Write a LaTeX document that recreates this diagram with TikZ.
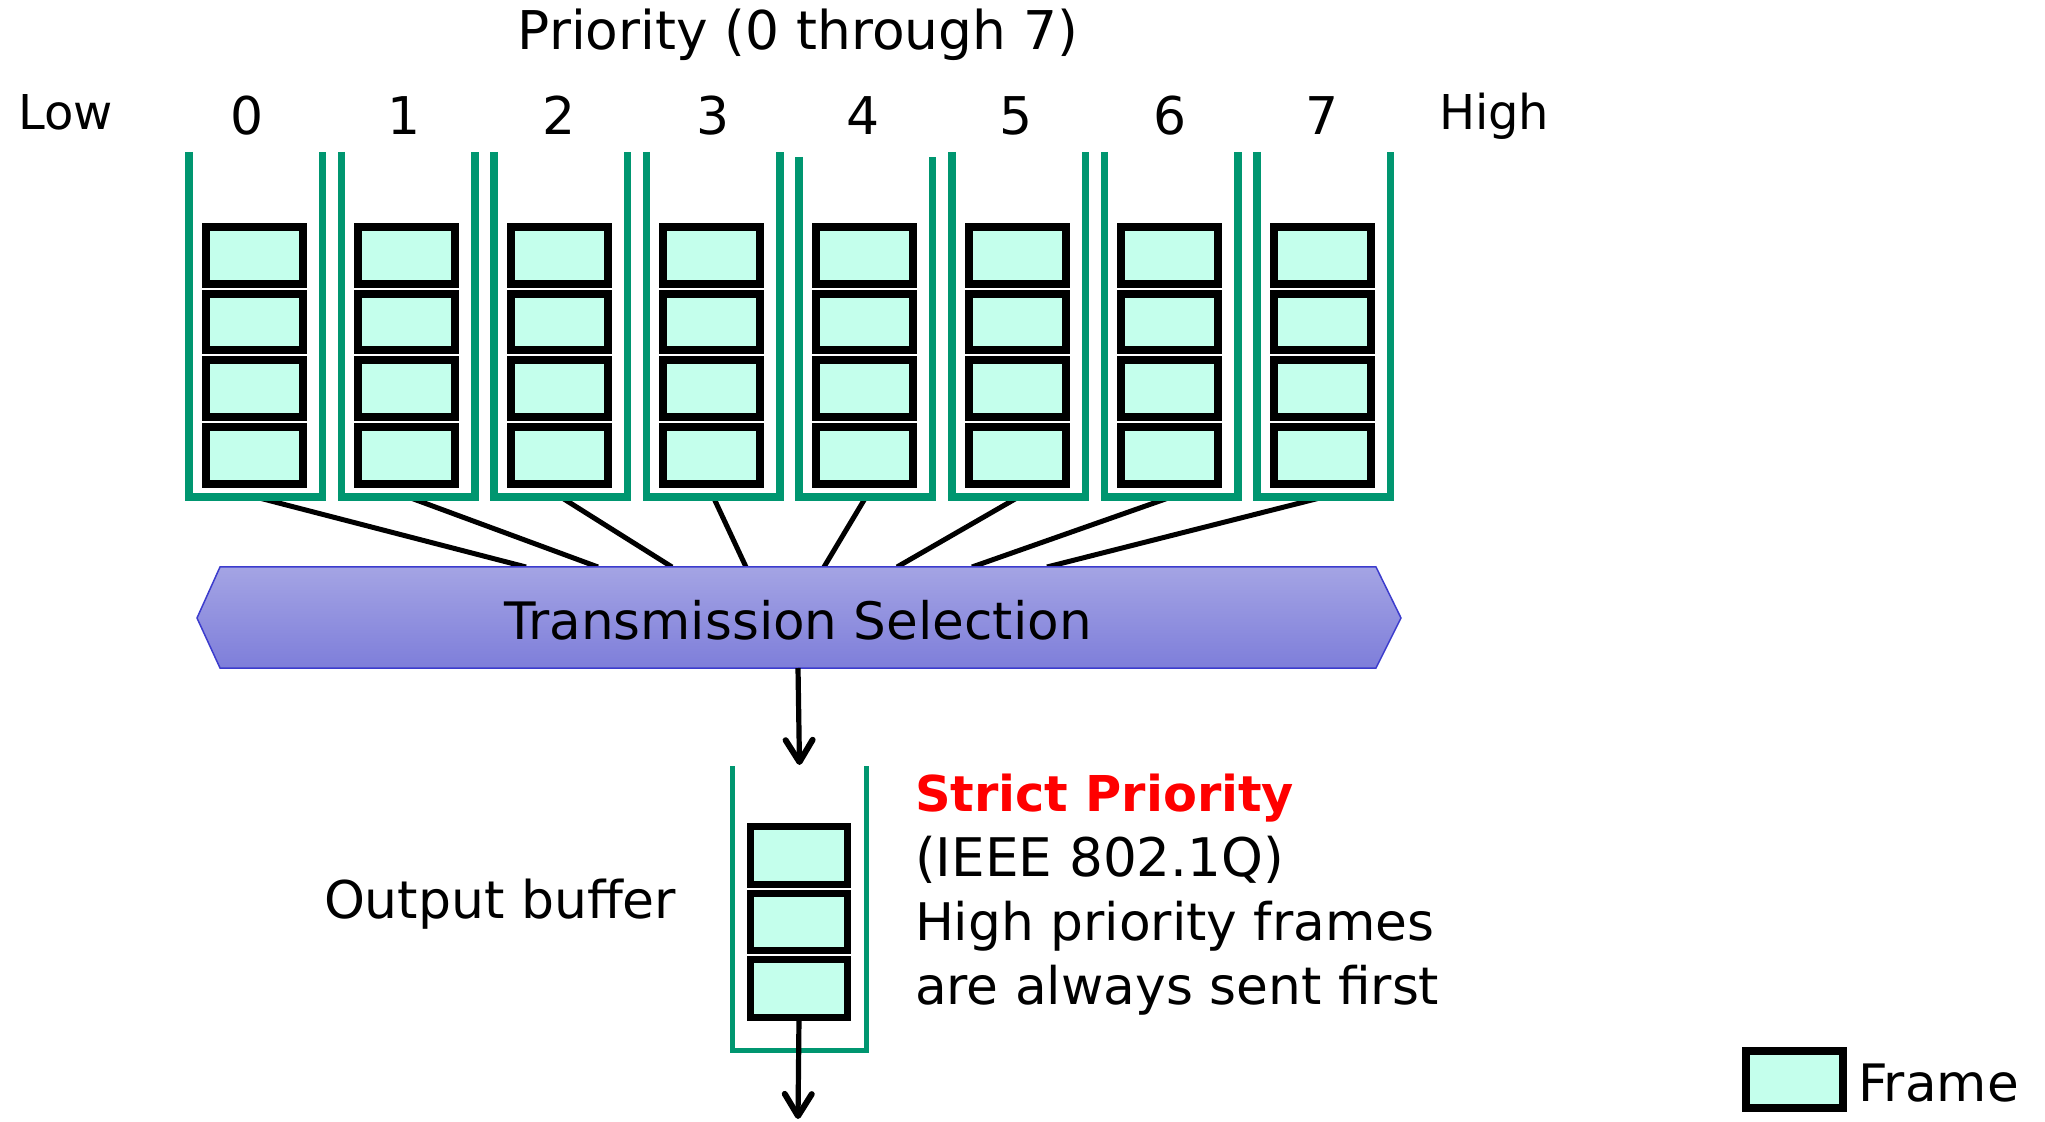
\documentclass[tikz,border=0pt]{standalone}
\usepackage{fontspec}
\setmainfont{DejaVu Sans}
\usetikzlibrary{arrows.meta}
\definecolor{qgreen}{RGB}{0,150,112}
\definecolor{ffill}{RGB}{196,255,236}
\definecolor{hextop}{RGB}{164,164,228}
\definecolor{hexbot}{RGB}{126,126,218}
\definecolor{hexline}{RGB}{60,60,205}
\definecolor{sred}{RGB}{255,0,0}
\newcommand\mysz[1]{\fontsize{#1bp}{#1bp}\selectfont}
\begin{document}
\begin{tikzpicture}[x=0.5bp,y=-0.5bp,
  frm/.style={draw=black,fill=ffill,line width=4bp,minimum width=48.5bp,minimum height=28.35bp,inner sep=0pt,outer sep=0pt},
  ofrm/.style={frm,line width=3.5bp,minimum width=48.5bp,minimum height=28.85bp},
  queue/.style={draw=qgreen,line width=3.75bp},
  obuf/.style={draw=qgreen,line width=2.5bp},
  conn/.style={draw=black,line width=2.5bp},
  arr/.style={draw=black,line width=2.6bp,-{Straight Barb[length=11bp,width=13.5bp,line width=3bp,round]}},
  txt/.style={inner sep=0pt,outer sep=0pt,anchor=base west},
  ctxt/.style={inner sep=0pt,outer sep=0pt,anchor=base},
]
\useasboundingbox (0,0) rectangle (2045,1122);

% connector end points on the selection box
\foreach \i/\tx in {0/526,1/598,2/672,3/746,4/824,5/897,6/972,7/1047}{
  \pgfmathsetmacro\L{185+152.6*\i}
  \coordinate (qb\i) at (\L+70.5,497);
  \coordinate (tt\i) at (\tx,567);
  \draw[conn] (qb\i) -- (tt\i);
}

% queues
\foreach \i in {0,...,7}{
  \pgfmathsetmacro\L{185+152.6*\i}
  \pgfmathsetmacro\T{\i==4 ? 157 : 152}
  \draw[queue] (\L+3.75,\T) -- (\L+3.75,497) -- (\L+137.25,497) -- (\L+137.25,\T);
  \foreach \j in {0,...,3}{
    \node[frm] (q\i f\j) at (\L+69,255.35+66.7*\j) {};
  }
}

% transmission selection
\shadedraw[top color=hextop,bottom color=hexbot,draw=hexline,line width=0.75bp]
  (197,618) -- (220,567) -- (1376,567) -- (1401,618) -- (1376,668) -- (220,668) -- cycle;
\node[ctxt] (tsel) at (798,639) {\mysz{25.8}Transmission Selection};

% output buffer
\draw[obuf] (732.5,766) -- (732.5,1050.5) -- (866.5,1050.5) -- (866.5,766);
\foreach \j in {0,...,2}{
  \node[ofrm] (o\j) at (799,855.3+66.7*\j) {};
}
\coordinate (hexout) at (798,668);
\coordinate (bufin) at (799.5,765);
\draw[arr] (hexout) -- (bufin);
\coordinate (outend) at (798,1119);
\draw[arr] (o2.south) -- (outend);

% labels
\node[ctxt] (title) at (798,50) {\mysz{26.7}Priority (0 through 7)};
\node[txt] (low) at (18.5,129.3) {\mysz{24}Low};
\node[txt] (high) at (1439,130) {\mysz{24}High};
\foreach \i/\dx in {0/247.5,1/404,2/559.5,3/713,4/863,5/1016,6/1170,7/1321.7}{
  \node[ctxt] (d\i) at (\dx,135) {\mysz{26}\i};
}
\node[txt] (obl) at (324,918.3) {\mysz{26}Output buffer};
\node[txt,text=sred] (sp) at (915,811.5) {\mysz{24.7}\textbf{Strict Priority}};
\node[txt] (ieee) at (915,876) {\mysz{26.6}(IEEE 802.1Q)};
\node[txt] (hp) at (915,940) {\mysz{25.9}High priority frames};
\node[txt] (aa) at (915,1004) {\mysz{25.9}are always sent first};

% legend
\node[frm] (leg) at (1794.5,1079.5) {};
\node[txt] (legt) at (1858,1101) {\mysz{25.8}Frame};
\end{tikzpicture}
\end{document}
